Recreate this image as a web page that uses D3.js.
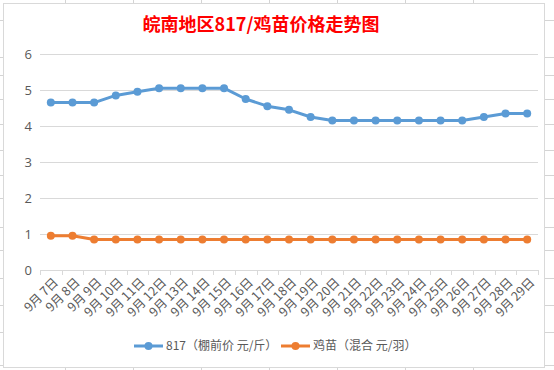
<!DOCTYPE html>
<html>
<head>
<meta charset="utf-8">
<script src="https://cdn.jsdelivr.net/npm/d3@7"></script>
<style>
  body { margin: 0; background: #fff; }
  svg { display: block; font-family: "Noto Sans CJK SC", "Noto Sans", sans-serif; }
</style>
</head>
<body>
<div id="chart-container"></div>
<script>
// data
var days = ["9月7日","9月8日","9月9日","9月10日","9月11日","9月12日","9月13日","9月14日","9月15日","9月16日","9月17日","9月18日","9月19日","9月20日","9月21日","9月22日","9月23日","9月24日","9月25日","9月26日","9月27日","9月28日","9月29日"];
var price817 = [4.65,4.65,4.65,4.85,4.95,5.05,5.05,5.05,5.05,4.75,4.55,4.45,4.25,4.15,4.15,4.15,4.15,4.15,4.15,4.15,4.25,4.35,4.35];
var chickPrice = [0.95,0.95,0.85,0.85,0.85,0.85,0.85,0.85,0.85,0.85,0.85,0.85,0.85,0.85,0.85,0.85,0.85,0.85,0.85,0.85,0.85,0.85,0.85];
var yTicks = [0,1,2,3,4,5,6];
var seriesNames = ["817（棚前价 元/斤）","鸡苗（混合 元/羽）"];
var colors = ["#5b9bd5","#ed7d31"];

var width = 554, height = 370;
var plot = {left: 40, right: 538, top: 54, bottom: 270};

var svg = d3.select("#chart-container")
  .append("svg")
    .attr("width", width)
    .attr("height", height);

// spreadsheet cell lines around the chart
var sheet = svg.append("g").attr("stroke", "#d4d4d4").attr("stroke-width", 1);
[65,133,201,269,337,405,473].forEach(function(x){
  sheet.append("line").attr("x1", x + .5).attr("x2", x + .5).attr("y1", 0).attr("y2", 3);
  sheet.append("line").attr("x1", x + .5).attr("x2", x + .5).attr("y1", 368).attr("y2", 370);
});
[20,57,75,99,124,150,175,198,227,250,278,305,332,365].forEach(function(y){
  sheet.append("line").attr("x1", 0).attr("x2", 3).attr("y1", y + .5).attr("y2", y + .5);
  sheet.append("line").attr("x1", 545).attr("x2", 554).attr("y1", y + .5).attr("y2", y + .5);
});

// chart frame
svg.append("rect")
  .attr("x", 3.5).attr("y", 3.5)
  .attr("width", 541).attr("height", 364)
  .attr("fill", "#fff")
  .attr("stroke", "#d9d9d9");

// title
svg.append("text")
  .attr("x", 261).attr("y", 31)
  .attr("text-anchor", "middle")
  .attr("fill", "#ff0000")
  .attr("font-size", 18)
  .attr("font-weight", "bold")
  .text("皖南地区817/鸡苗价格走势图");

var xScale = d3.scaleBand().domain(days).range([plot.left, plot.right]);
var yScale = d3.scaleLinear().domain([0, 6]).range([plot.bottom, plot.top]);

// gridlines + y labels
var yAxis = svg.append("g")
  .attr("transform", "translate(" + plot.left + ",0)")
  .call(d3.axisLeft(yScale).tickValues(yTicks).tickFormat(d3.format("d")).tickSize(-(plot.right - plot.left)).tickPadding(8));
yAxis.select(".domain").remove();
yAxis.selectAll(".tick line").attr("stroke", "#d9d9d9");
yAxis.selectAll(".tick text")
  .attr("fill", "#595959")
  .attr("font-size", 13)
  .attr("font-family", "'Open Sans', sans-serif")
  .attr("x", -8);

// x axis
var xAxis = svg.append("g")
  .attr("transform", "translate(0," + plot.bottom + ")")
  .call(d3.axisBottom(xScale).tickSize(0).tickFormat(""));
xAxis.select(".domain").attr("stroke", "#d9d9d9");
var bounds = days.map(function(d){ return xScale(d); }).concat([plot.right]);
xAxis.selectAll(".bound")
  .data(bounds)
  .enter().append("line")
    .attr("x1", function(d){ return Math.round(d) + .5; })
    .attr("x2", function(d){ return Math.round(d) + .5; })
    .attr("y1", 0).attr("y2", 5)
    .attr("stroke", "#d9d9d9");

svg.append("g").selectAll("text")
  .data(days)
  .enter().append("text")
    .attr("transform", function(d){
      return "translate(" + (xScale(d) + xScale.bandwidth() / 2 + 5) + "," + (plot.bottom + 10) + ") rotate(-45)";
    })
    .attr("text-anchor", "end")
    .attr("dy", "0.35em")
    .attr("fill", "#595959")
    .attr("font-size", 12.5)
    .text(function(d){ return d.replace("月", "月 "); });

// series
var line = d3.line()
  .x(function(d, i){ return xScale(days[i]) + xScale.bandwidth() / 2; })
  .y(function(d){ return yScale(d); });

[price817, chickPrice].forEach(function(s, k){
  svg.append("path")
    .datum(s)
    .attr("fill", "none")
    .attr("stroke", colors[k])
    .attr("stroke-width", 3)
    .attr("stroke-linejoin", "round")
    .attr("d", line);
  svg.append("g").selectAll("circle")
    .data(s)
    .enter().append("circle")
      .attr("cx", function(d, i){ return xScale(days[i]) + xScale.bandwidth() / 2; })
      .attr("cy", function(d){ return yScale(d); })
      .attr("r", 4)
      .attr("fill", colors[k]);
});

// legend
var legendX = [134, 281];
seriesNames.forEach(function(name, k){
  var g = svg.append("g").attr("transform", "translate(" + legendX[k] + ",346)");
  g.append("line").attr("x1", 0).attr("x2", 29).attr("y1", 0).attr("y2", 0)
    .attr("stroke", colors[k]).attr("stroke-width", 3);
  g.append("circle").attr("cx", 14.5).attr("cy", 0).attr("r", 4).attr("fill", colors[k]);
  g.append("text").attr("x", 32).attr("y", 0).attr("dy", "0.35em")
    .attr("fill", "#595959").attr("font-size", 12).text(name);
});
</script>
</body>
</html>
